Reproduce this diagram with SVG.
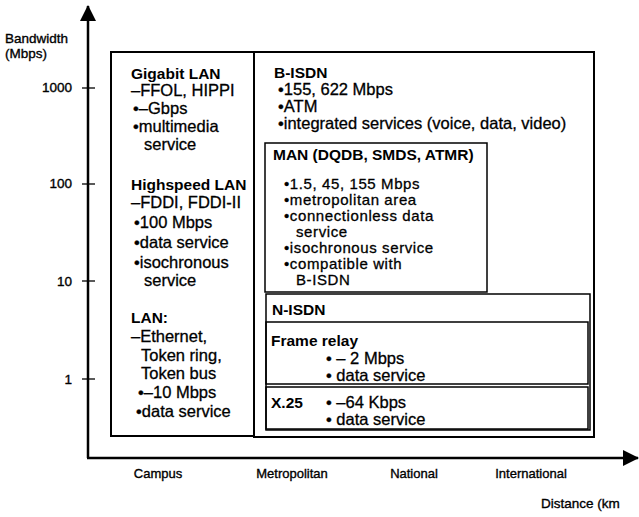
<svg xmlns="http://www.w3.org/2000/svg" width="639" height="517" viewBox="0 0 639 517">
<defs>
<style>
text{font-family:"Liberation Sans",Arial,sans-serif;fill:#000}
.ax{font-size:13.5px;stroke:#000;stroke-width:0.35}
.xl{font-size:13px;text-anchor:middle;stroke:#000;stroke-width:0.35}
.h{font-size:15.5px;font-weight:bold}
.t{font-size:16.5px;stroke:#000;stroke-width:0.3}
.m{font-size:15px;letter-spacing:0.6px;stroke:#000;stroke-width:0.3}
.box{fill:none;stroke:#000;stroke-width:2}
.ibox{fill:none;stroke:#000;stroke-width:1.5}
.axis{stroke:#000;stroke-width:2.5;fill:none}
.tick{stroke:#000;stroke-width:1.3}
</style>
<marker id="arr" viewBox="0 0 16 16" refX="15" refY="8" markerWidth="16" markerHeight="16" markerUnits="userSpaceOnUse" orient="auto">
<path d="M0,0 L16,8 L0,16 Z" fill="#000"/>
</marker>
</defs>
<rect width="639" height="517" fill="#fff"/>

<g id="axes">
<line class="axis" x1="88" y1="458" x2="88" y2="6" marker-end="url(#arr)"/>
<line class="axis" x1="87" y1="458" x2="638" y2="458" marker-end="url(#arr)"/>
<line class="tick" x1="82" y1="88" x2="95" y2="88"/>
<line class="tick" x1="82" y1="184" x2="95" y2="184"/>
<line class="tick" x1="82" y1="281" x2="95" y2="281"/>
<line class="tick" x1="82" y1="379" x2="95" y2="379"/>
<text class="ax" x="5" y="43">Bandwidth</text>
<text class="ax" x="5" y="58">(Mbps)</text>
<text class="ax" x="72" y="92" text-anchor="end">1000</text>
<text class="ax" x="72" y="188" text-anchor="end">100</text>
<text class="ax" x="72" y="286" text-anchor="end">10</text>
<text class="ax" x="72" y="384" text-anchor="end">1</text>
<text class="xl" x="158" y="478">Campus</text>
<text class="xl" x="292" y="478">Metropolitan</text>
<text class="xl" x="414" y="478">National</text>
<text class="xl" x="531" y="478">International</text>
<text class="ax" x="541" y="508">Distance (km</text>
</g>

<g id="lan">
<rect class="box" x="111" y="52" width="143" height="384"/>
<text class="h" x="131" y="79">Gigabit LAN</text>
<text class="t" x="131" y="96">–FFOL, HIPPI</text>
<text class="t" x="133" y="114">•–Gbps</text>
<text class="t" x="133" y="132">•multimedia</text>
<text class="t" x="144" y="150">service</text>
<text class="h" x="131" y="190">Highspeed LAN</text>
<text class="t" x="131" y="208">–FDDI, FDDI-II</text>
<text class="t" x="134" y="228">•100 Mbps</text>
<text class="t" x="134" y="248">•data service</text>
<text class="t" x="134" y="268">•isochronous</text>
<text class="t" x="144" y="286">service</text>
<text class="h" x="131" y="323">LAN:</text>
<text class="t" x="131" y="342">–Ethernet,</text>
<text class="t" x="141" y="361">Token ring,</text>
<text class="t" x="141" y="379">Token bus</text>
<text class="t" x="138" y="398">•–10 Mbps</text>
<text class="t" x="136" y="417">•data service</text>
</g>

<g id="bisdn">
<rect class="box" x="254" y="52" width="340" height="385"/>
<text class="h" x="274" y="78">B-ISDN</text>
<text class="t" x="278" y="95">•155, 622 Mbps</text>
<text class="t" x="278" y="112">•ATM</text>
<text class="t" x="278" y="129">•integrated services (voice, data, video)</text>
</g>

<g id="man">
<rect class="ibox" x="265" y="143" width="222" height="149"/>
<text class="h" x="273" y="160">MAN (DQDB, SMDS, ATMR)</text>
<text class="m" x="284" y="189">•1.5, 45, 155 Mbps</text>
<text class="m" x="284" y="205">•metropolitan area</text>
<text class="m" x="284" y="221">•connectionless data</text>
<text class="m" x="296" y="237">service</text>
<text class="m" x="284" y="253">•isochronous service</text>
<text class="m" x="284" y="269">•compatible with</text>
<text class="m" x="296" y="285">B-ISDN</text>
</g>

<g id="nisdn">
<rect class="ibox" x="266" y="294" width="324" height="136"/>
<text class="h" x="272" y="315">N-ISDN</text>
</g>

<g id="framerelay">
<rect class="ibox" x="266" y="322" width="322" height="62"/>
<text class="h" x="271" y="346">Frame relay</text>
<text class="t" x="326" y="364">• – 2 Mbps</text>
<text class="t" x="326" y="381">• data service</text>
</g>

<g id="x25">
<rect class="ibox" x="266" y="387" width="322" height="42"/>
<text class="h" x="271" y="408">X.25</text>
<text class="t" x="326" y="408">• –64 Kbps</text>
<text class="t" x="326" y="425">• data service</text>
</g>
</svg>
